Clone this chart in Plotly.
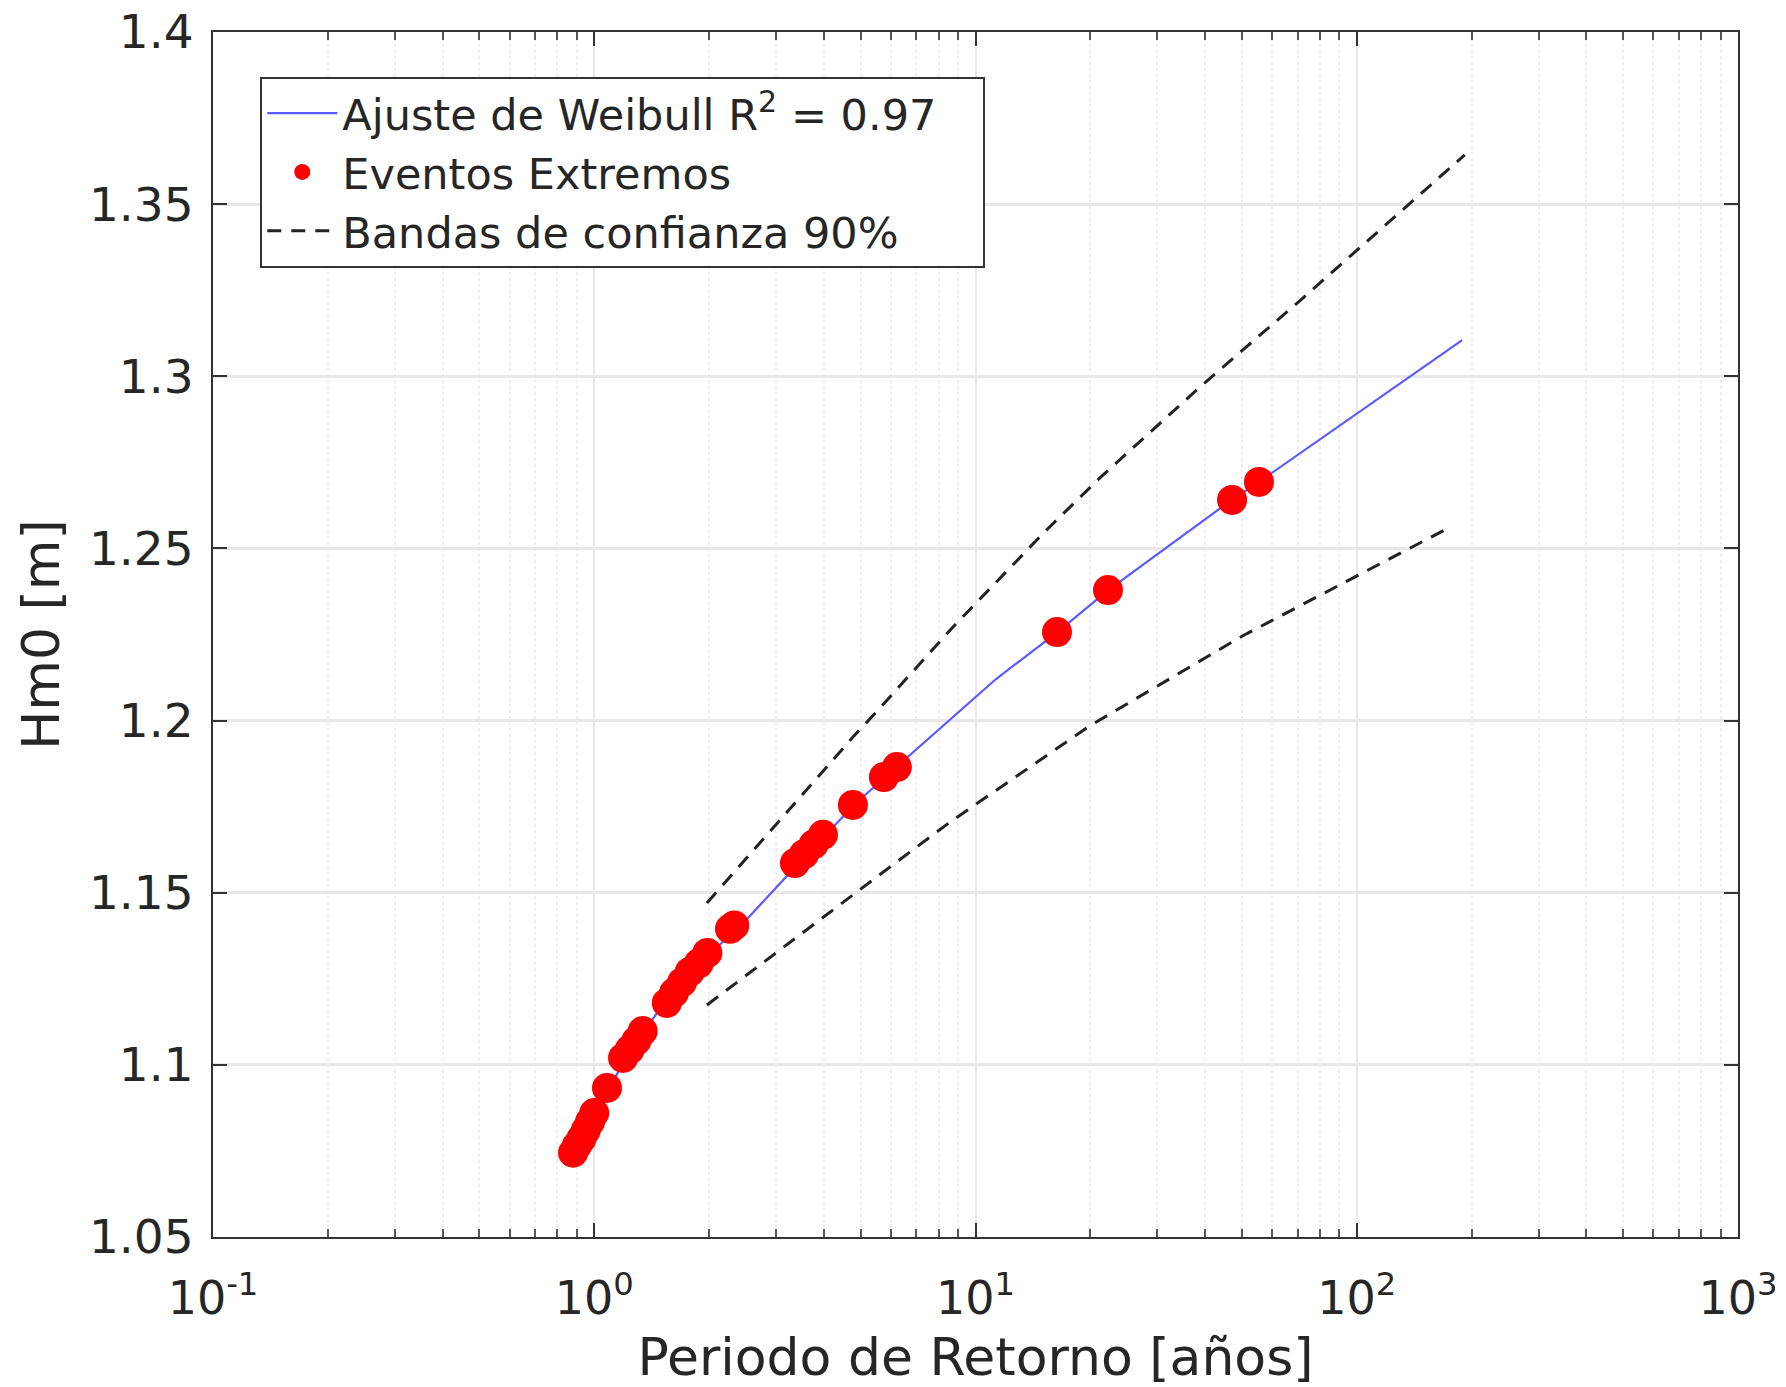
import plotly.graph_objects as go

# Extreme events (return period [years], Hm0 [m])
event_T = [0.88, 0.90, 0.925, 0.95, 0.975, 1.0, 1.08,
           1.19, 1.24, 1.29, 1.34,
           1.55, 1.62, 1.70, 1.78, 1.88, 1.98,
           2.27, 2.33,
           3.36, 3.55, 3.76, 3.98,
           4.77, 5.75, 6.22, 16.36, 22.26, 47.1, 55.4]
event_H = [1.0745, 1.0765, 1.0785, 1.081, 1.0835, 1.086, 1.0933,
           1.102, 1.1045, 1.107, 1.1098,
           1.118, 1.121, 1.124, 1.127, 1.1295, 1.1325,
           1.1395, 1.1405,
           1.1586, 1.1612, 1.164, 1.1668,
           1.1755, 1.1836, 1.1865, 1.2257, 1.2379, 1.2641, 1.2693]

# Weibull fit
fit_T = [0.88, 1.0, 1.2, 1.5, 2.0, 2.5, 3.4, 4.8, 6.2, 11.3, 16.4, 22.3, 47.0, 55.4, 189.0]
fit_H = [1.075, 1.086, 1.101, 1.117, 1.132, 1.142, 1.158, 1.1755, 1.1865, 1.212,
         1.2257, 1.2379, 1.2641, 1.2693, 1.3105]

# 90% confidence bands
up_T = [1.975, 4.77, 5.62, 8.73, 15.4, 21.2, 38.8, 71.0, 192.0]
up_H = [1.147, 1.1952, 1.2037, 1.2272, 1.2555, 1.2705, 1.2969, 1.322, 1.3643]
lo_T = [1.975, 3.98, 5.97, 8.57, 19.96, 50.0, 120.0, 177.8]
lo_H = [1.1174, 1.1429, 1.1575, 1.1705, 1.1985, 1.2245, 1.2465, 1.2565]

x_tickvals = [0.1, 1, 10, 100, 1000]
x_ticktext = ["10<sup>-1</sup>", "10<sup>0</sup>", "10<sup>1</sup>", "10<sup>2</sup>", "10<sup>3</sup>"]
y_tickvals = [1.05, 1.1, 1.15, 1.2, 1.25, 1.3, 1.35, 1.4]
y_ticktext = ["1.05", "1.1", "1.15", "1.2", "1.25", "1.3", "1.35", "1.4"]

FONT = "DejaVu Sans"
TXT = "#262626"
NB = "\u00a0"

fig = go.Figure()
fig.add_trace(go.Scatter(x=fit_T, y=fit_H, mode="lines",
                         line=dict(color="#5a5aff", width=2.2),
                         name="Ajuste de Weibull R<sup>2</sup> = 0.97" + NB * 3))
fig.add_trace(go.Scatter(x=event_T, y=event_H, mode="markers",
                         marker=dict(color="#ff0000", size=30, line=dict(width=0)),
                         name="Eventos Extremos"))
fig.add_trace(go.Scatter(x=up_T, y=up_H, mode="lines",
                         line=dict(color="#222222", width=3, dash="14px,10px"),
                         name="Bandas de confianza 90%"))
fig.add_trace(go.Scatter(x=lo_T, y=lo_H, mode="lines",
                         line=dict(color="#222222", width=3, dash="14px,10px"),
                         name="Bandas de confianza 90%", showlegend=False))

fig.update_layout(
    width=1778, height=1379,
    margin=dict(l=205, r=48, t=24, b=150),
    paper_bgcolor="white", plot_bgcolor="white",
    font=dict(family=FONT, color=TXT, size=44),
    showlegend=True,
    legend=dict(x=0.031, y=0.963, xanchor="left", yanchor="top",
                bgcolor="white", bordercolor="#333333", borderwidth=2,
                font=dict(size=43, family=FONT, color=TXT),
                itemwidth=70, tracegroupgap=0),
)
fig.update_xaxes(type="log", range=[-1, 3], automargin=False,
                 tickvals=x_tickvals, ticktext=x_ticktext,
                 ticks="inside", ticklen=14, tickwidth=1.5, tickcolor="#333333",
                 showline=True, linecolor="#333333", linewidth=2, mirror="ticks",
                 showgrid=True, gridcolor="#e8e8e8", gridwidth=2,
                 zeroline=False,
                 minor=dict(ticks="inside", ticklen=8, tickcolor="#555555", dtick="D1",
                            showgrid=True, gridcolor="#eeeeee", griddash="dot", gridwidth=1.5),
                 tickfont=dict(size=46, family=FONT, color=TXT),
                 ticklabelstandoff=20, ticklabeloverflow="allow",
                 title=dict(text="Periodo de Retorno [años]", font=dict(size=52, family=FONT, color=TXT),
                            standoff=43))
fig.update_yaxes(range=[1.05, 1.4], automargin=False,
                 tickvals=y_tickvals, ticktext=y_ticktext,
                 ticks="inside", ticklen=14, tickwidth=1.5, tickcolor="#333333",
                 showline=True, linecolor="#333333", linewidth=2, mirror="ticks",
                 showgrid=True, gridcolor="#e8e8e8", gridwidth=2.5,
                 zeroline=False,
                 tickfont=dict(size=47, family=FONT, color=TXT),
                 ticklabelstandoff=8, ticklabeloverflow="allow",
                 title=dict(text="Hm0 [m]", font=dict(size=52, family=FONT, color=TXT),
                            standoff=13))

fig.write_html("out.html")
